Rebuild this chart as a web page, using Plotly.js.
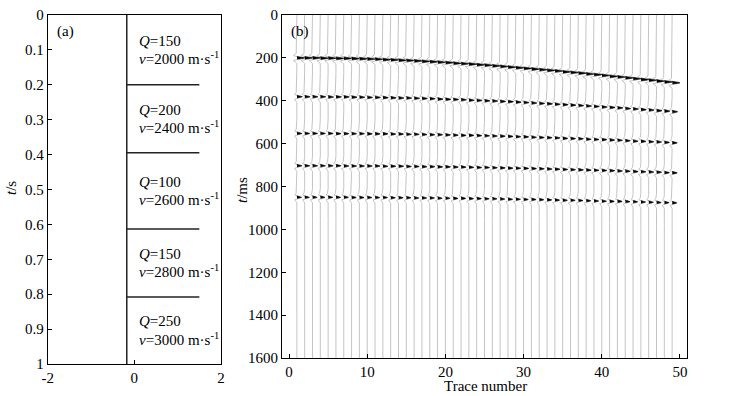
<!DOCTYPE html>
<html><head><meta charset="utf-8">
<script src="https://cdn.plot.ly/plotly-3.0.1.min.js"></script>
<style>html,body{margin:0;padding:0;background:#fff}</style>
</head><body><div id="chart" style="width:731px;height:396px"></div>
<script>
// ---- Panel (a): layered model ----
const layerBounds = [0, 0.2, 0.395, 0.613, 0.808, 1.0];   // t/s
const layerQ = [150, 200, 100, 150, 250];
const layerV = [2000, 2400, 2600, 2800, 3000];           // m/s
const modelLineX = -0.175;                                 // vertical line position
const boundaryEndX = 1.5;
const panelAYTicks = [0, 0.1, 0.2, 0.3, 0.4, 0.5, 0.6, 0.7, 0.8, 0.9, 1];
const panelAYTickText = ["0", "0.1", "0.2", "0.3", "0.4", "0.5", "0.6", "0.7", "0.8", "0.9", "1"];
const panelAXTicks = [-2, 0, 2];
const panelAXTickText = ["-2", "0", "2"];

// ---- Panel (b): synthetic gather ----
const traceNumbers = [1,2,3,4,5,6,7,8,9,10,11,12,13,14,15,16,17,18,19,20,21,22,23,24,25,26,27,28,29,30,31,32,33,34,35,36,37,38,39,40,41,42,43,44,45,46,47,48,49];
const event1 = [200,200,200,201,201,202,202,203,204,205,206,208,209,211,212,214,216,218,220,222,225,227,229,232,234,237,240,243,246,249,252,255,258,261,265,268,271,275,278,282,286,289,293,297,301,304,308,312,316];
const event2 = [381,381,381,381,382,382,382,383,383,384,384,385,386,387,387,388,389,390,392,393,394,395,397,398,400,401,403,404,406,408,410,412,414,416,418,420,422,424,426,429,431,433,436,438,441,443,446,448,451];
const event3 = [552,552,552,552,552,553,553,553,553,554,554,554,555,555,556,556,557,558,558,559,560,561,561,562,563,564,565,566,567,568,570,571,572,573,575,576,577,579,580,581,583,584,586,588,589,591,592,594,596];
const event4 = [703,703,703,703,703,703,704,704,704,704,704,705,705,705,706,706,707,707,708,708,709,709,710,711,711,712,713,714,714,715,716,717,718,719,720,721,722,723,724,725,726,727,728,730,731,732,733,735,736];
const event5 = [850,850,850,850,850,850,850,851,851,851,851,851,852,852,852,853,853,853,854,854,855,855,856,856,857,857,858,859,859,860,860,861,862,863,864,864,865,866,867,868,869,869,870,871,872,873,874,875,876];
const eventAmp = [1.0, 0.7, 0.65, 0.65, 0.6];
const panelBYTicks = [0, 200, 400, 600, 800, 1000, 1200, 1400, 1600];
const panelBXTicks = [0, 10, 20, 30, 40, 50];

const events = [event1, event2, event3, event4, event5];
const freq = 34; // Hz, wavelet dominant frequency
function ricker(dtms) {
  const a = Math.PI * freq * dtms / 1000; const a2 = a * a;
  return (1 - 2 * a2) * Math.exp(-a2);
}
const tz = 1000 / (Math.PI * freq * Math.SQRT2);

// wiggle lines
const wx = [], wy = [];
traceNumbers.forEach((tr, k) => {
  for (let t = 0; t <= 1600; t += 1) {
    let s = 0;
    for (let e = 0; e < events.length; e++) {
      const d = t - events[e][k];
      if (Math.abs(d) < 90) s += eventAmp[e] * ricker(d);
    }
    wx.push(tr + s); wy.push(t);
  }
  wx.push(null); wy.push(null);
});
// filled positive lobes
const fx = [], fy = [];
traceNumbers.forEach((tr, k) => {
  for (let e = 0; e < events.length; e++) {
    const t0 = events[e][k];
    for (let d = -tz; d <= tz + 1e-9; d += 0.5) {
      fx.push(tr + eventAmp[e] * Math.max(ricker(d), 0)); fy.push(t0 + d);
    }
    fx.push(null); fy.push(null);
  }
});

// panel (a) boundary lines
const bx = [modelLineX, modelLineX, null], by = [0, 1, null];
for (let i = 1; i < layerBounds.length - 1; i++) {
  bx.push(modelLineX, boundaryEndX, null); by.push(layerBounds[i], layerBounds[i], null);
}

const FONT = 'Liberation Serif';
const traces = [
  {x: bx, y: by, xaxis: 'x', yaxis: 'y', mode: 'lines', line: {color: '#222', width: 1.5}, hoverinfo: 'skip'},
  {x: wx, y: wy, xaxis: 'x2', yaxis: 'y2', mode: 'lines', line: {color: '#c4c4c4', width: 1}, hoverinfo: 'skip'},
  {x: fx, y: fy, xaxis: 'x2', yaxis: 'y2', mode: 'lines', fill: 'toself', fillcolor: '#000', line: {color: '#000', width: 0.5}, hoverinfo: 'skip'}
];

const annotations = [];
for (let i = 0; i < layerQ.length; i++) {
  const mid = (layerBounds[i] + layerBounds[i + 1]) / 2;
  annotations.push({xref: 'paper', yref: 'y', x: 137 / 731, y: mid - 0.026, xanchor: 'left', yanchor: 'middle', showarrow: false,
    text: '<i>Q</i>=' + layerQ[i], font: {family: FONT, size: 15, color: '#000'}});
  annotations.push({xref: 'paper', yref: 'y', x: 137 / 731, y: mid + 0.024, xanchor: 'left', yanchor: 'middle', showarrow: false,
    text: '<i>v</i>=' + layerV[i] + ' m·s<sup>-1</sup>', font: {family: FONT, size: 15, color: '#000'}});
}
annotations.push({xref: 'paper', yref: 'paper', x: 55 / 731, y: 1 - 32 / 396, xanchor: 'left', yanchor: 'middle', showarrow: false, text: '(a)', font: {family: FONT, size: 15, color: '#000'}});
annotations.push({xref: 'paper', yref: 'paper', x: 289 / 731, y: 1 - 32 / 396, xanchor: 'left', yanchor: 'middle', showarrow: false, text: '(b)', font: {family: FONT, size: 15, color: '#000'}});
annotations.push({xref: 'paper', yref: 'paper', x: 11 / 731, y: 1 - 188 / 396, xanchor: 'center', yanchor: 'middle', showarrow: false, textangle: -90, text: '<i>t</i>/s', font: {family: FONT, size: 15, color: '#000'}});
annotations.push({xref: 'paper', yref: 'paper', x: 242 / 731, y: 1 - 190 / 396, xanchor: 'center', yanchor: 'middle', showarrow: false, textangle: -90, text: '<i>t</i>/ms', font: {family: FONT, size: 15, color: '#000'}});
annotations.push({xref: 'paper', yref: 'paper', x: 485 / 731, y: 1 - 386 / 396, xanchor: 'center', yanchor: 'middle', showarrow: false, text: 'Trace number', font: {family: FONT, size: 15, color: '#000'}});

const axBase = {showgrid: false, zeroline: false, showline: true, mirror: true, linecolor: '#000', linewidth: 1,
  ticks: 'inside', ticklen: 4, tickcolor: '#000', tickfont: {family: FONT, size: 15, color: '#000'}, automargin: false, fixedrange: true};

const layout = {
  width: 731, height: 396, margin: {l: 0, r: 0, t: 0, b: 0},
  font: {family: FONT, size: 15, color: '#000'},
  paper_bgcolor: '#fff', plot_bgcolor: '#fff', showlegend: false,
  xaxis: Object.assign({}, axBase, {domain: [47.7 / 731, 221 / 731], range: [-2, 2], tickmode: 'array', tickvals: panelAXTicks, ticktext: panelAXTickText}),
  yaxis: Object.assign({}, axBase, {domain: [1 - 364 / 396, 1 - 15 / 396], range: [1, 0], tickmode: 'array', tickvals: panelAYTicks, ticktext: panelAYTickText}),
  xaxis2: Object.assign({}, axBase, {anchor: 'y2', domain: [282 / 731, 687 / 731], range: [-0.9, 50.9], tickmode: 'array', tickvals: panelBXTicks}),
  yaxis2: Object.assign({}, axBase, {anchor: 'x2', domain: [1 - 358 / 396, 1 - 15 / 396], range: [1600, 0], tickmode: 'array', tickvals: panelBYTicks}),
  annotations: annotations
};
Plotly.newPlot('chart', traces, layout, {staticPlot: true, displayModeBar: false});
</script></body></html>
